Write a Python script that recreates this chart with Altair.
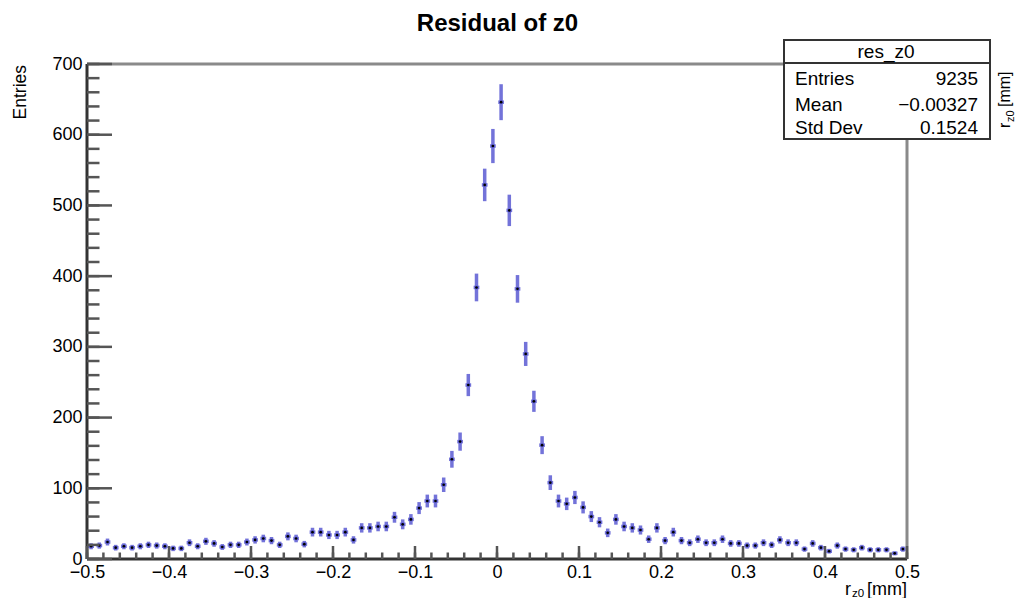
import altair as alt
import pandas as pd
import numpy as np

# ---- data (100 bins from -0.5 to 0.5) ----
bin_low = -0.5
bin_width = 0.01
counts = [18, 19, 24, 16, 18, 16, 18, 20, 19, 18,
          15, 15, 23, 18, 25, 22, 17, 20, 20, 24,
          27, 29, 26, 20, 32, 29, 21, 38, 38, 34,
          34, 38, 27, 44, 44, 46, 46, 59, 49, 56,
          72, 82, 82, 105, 141, 166, 246, 384, 529, 584,
          646, 493, 382, 290, 223, 161, 108, 82, 78, 87,
          73, 60, 52, 37, 56, 46, 44, 41, 28, 44,
          26, 38, 26, 23, 28, 23, 23, 28, 22, 22,
          19, 19, 23, 20, 27, 23, 23, 14, 22, 16,
          11, 19, 14, 13, 16, 13, 13, 13, 8, 14]

x_major = [-0.5, -0.4, -0.3, -0.2, -0.1, 0.0, 0.1, 0.2, 0.3, 0.4, 0.5]
y_major = [0, 100, 200, 300, 400, 500, 600, 700]

stat_names = ["Entries", "Mean", "Std Dev"]
stat_values = ["9235", "\u22120.00327", "0.1524"]
stats_title = "res_z0"
chart_title = "Residual of z0"

n = np.array(counts, dtype=float)
xc = bin_low + bin_width * (np.arange(len(counts)) + 0.5)
err = np.sqrt(n)
df = pd.DataFrame({
    "xc": xc,
    "xl": xc - 0.0035,
    "xr": xc + 0.0035,
    "n": n,
    "lo": n - err,
    "hi": n + err,
})

x_minor = [round(-0.5 + 0.02 * i, 2) for i in range(51)]
y_minor = [20 * i for i in range(36)]

W, H = 820, 495
FONT = "Liberation Sans"
BLUE = "#5a5ad2"

xscale = alt.Scale(domain=[-0.5, 0.5], nice=False, zero=False)
yscale = alt.Scale(domain=[0, 700], nice=False, zero=True)

x_axis = alt.Axis(values=x_major, ticks=False, domain=False, grid=False,
                  labelFontSize=18, labelFont=FONT, labelColor="#000",
                  labelPadding=4, labelFlush=False, labelOverlap=False, labelBound=False,
                  labelExpr="datum.value == 0 ? '0' : format(datum.value, '.1f')",
                  title=None)
y_axis = alt.Axis(values=y_major, ticks=False, domain=False, grid=False,
                  labelFontSize=18, labelFont=FONT, labelColor="#000",
                  labelPadding=5, labelFlush=False, labelOverlap=False, labelBound=False,
                  title=None)

X = lambda f: alt.X(f, type="quantitative", scale=xscale, axis=x_axis)
Y = lambda f: alt.Y(f, type="quantitative", scale=yscale, axis=y_axis)

one = pd.DataFrame({"k": [0]})

base = alt.Chart(df)

vbars = base.mark_rule(color=BLUE, strokeWidth=3.5, opacity=0.85).encode(
    x=X("xc"), y=Y("lo"), y2="hi")
hbars = base.mark_rule(color=BLUE, strokeWidth=3.5, opacity=0.85).encode(
    x=X("xl"), x2="xr", y=Y("n"))
dots = base.mark_circle(color="#000", size=7, opacity=1).encode(
    x=X("xc"), y=Y("n"))

def hline(x1, x2, y, color, w):
    return alt.Chart(one).mark_rule(color=color, strokeWidth=w).encode(
        x=alt.value(x1), x2=alt.value(x2), y=alt.value(y))

def vline(x, y1, y2, color, w):
    return alt.Chart(one).mark_rule(color=color, strokeWidth=w).encode(
        x=alt.value(x), y=alt.value(y1), y2=alt.value(y2))

frame = [
    hline(0, W, 0, "#8a8a8a", 3),
    vline(W, 0, H, "#8a8a8a", 3),
    hline(0, W, H, "#333333", 3),
    vline(0, 0, H, "#333333", 3),
]

TICKC = "#555555"
xmaj = alt.Chart(pd.DataFrame({"t": x_major})).mark_rule(color=TICKC, strokeWidth=2.5).encode(
    x=X("t"), y=alt.value(H), y2=alt.value(H - 13))
xmin = alt.Chart(pd.DataFrame({"t": x_minor})).mark_rule(color=TICKC, strokeWidth=2.5).encode(
    x=X("t"), y=alt.value(H), y2=alt.value(H - 6.5))
ymaj = alt.Chart(pd.DataFrame({"t": y_major})).mark_rule(color=TICKC, strokeWidth=2.5).encode(
    y=Y("t"), x=alt.value(0), x2=alt.value(25))
ymin = alt.Chart(pd.DataFrame({"t": y_minor})).mark_rule(color=TICKC, strokeWidth=2.5).encode(
    y=Y("t"), x=alt.value(0), x2=alt.value(12.5))

def text(s, x, y, size=18, align="left", baseline="alphabetic", angle=0, weight="normal"):
    kw = dict(text=s, font=FONT, fontSize=size, align=align, baseline=baseline,
              color="#000", fontWeight=weight)
    if angle:
        kw["angle"] = angle
    return alt.Chart(one).mark_text(**kw).encode(x=alt.value(x), y=alt.value(y))

# stats box
box = alt.Chart(one).mark_rect(fill="white", stroke="#333333", strokeWidth=2).encode(
    x=alt.value(697), x2=alt.value(903), y=alt.value(-24), y2=alt.value(75))
sep = hline(697, 903, -1, "#333333", 2)
row_y = [15, 41, 64]
stats = [text(stats_title, 799, -12, size=19, align="center", baseline="middle")]
for name, val, ry in zip(stat_names, stat_values, row_y):
    stats.append(text(name, 708, ry, size=19, baseline="middle"))
    stats.append(text(val, 891, ry, size=19, align="right", baseline="middle"))

labels = [
    text(chart_title, 410.5, -33, size=24, align="center", weight="bold"),
    text("Entries", -61.5, 1, size=17.5, align="right", angle=270),
    text("r", 764, 531, size=18, align="right"),
    text("z0", 765, 533, size=11.5, align="left"),
    text("[mm]", 820, 531, size=18, align="right"),
    # rotated label at right edge
    text("r", 923, 64, size=16, align="left", angle=270),
    text("z0", 927, 58, size=11, align="left", angle=270),
    text("[mm]", 923, 43, size=16, align="left", angle=270),
]

chart = alt.layer(
    vbars, hbars, dots, *frame, xmaj, xmin, ymaj, ymin, box, sep, *stats, *labels
).properties(
    width=W, height=H,
    autosize=alt.AutoSizeParams(type="none"),
    padding={"left": 79, "top": 56, "right": 108, "bottom": 39},
).configure_view(stroke=None).configure(background="white")

chart.save("out.html", embed_options={"renderer": "svg", "actions": False})
